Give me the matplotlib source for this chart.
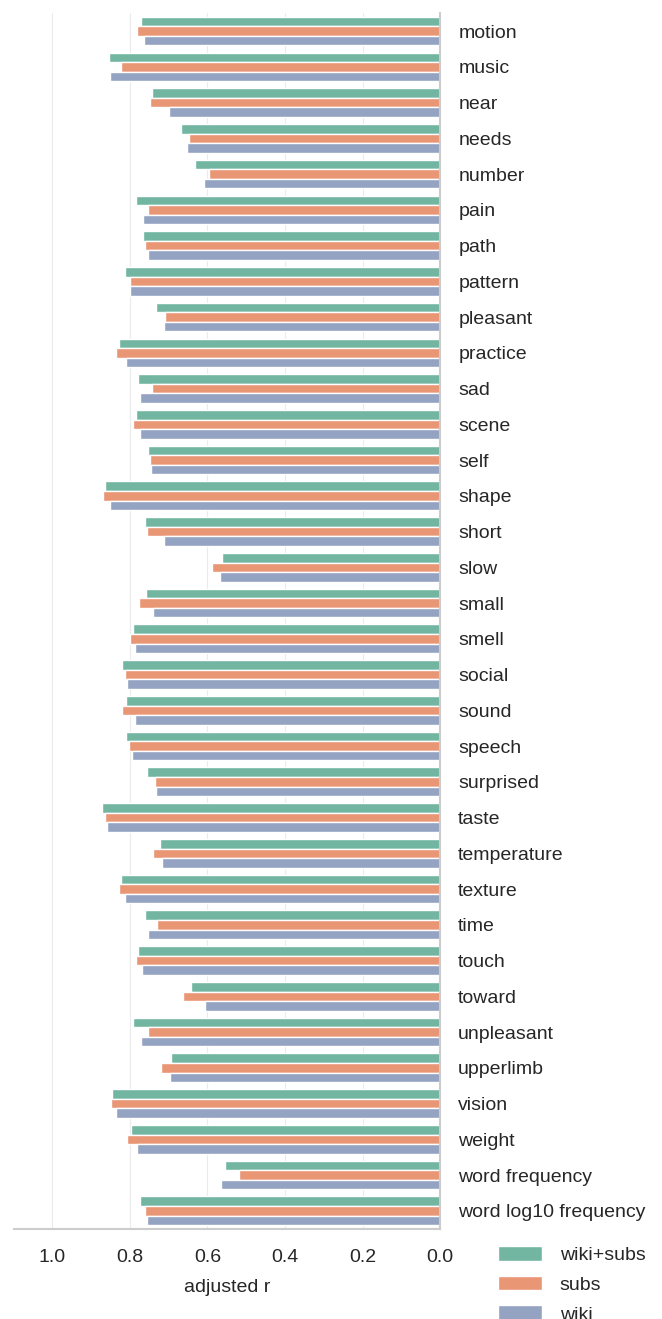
import matplotlib
matplotlib.use("Agg")
import matplotlib.pyplot as plt
import numpy as np
import pandas as pd
import seaborn as sns

features = ["motion", "music", "near", "needs", "number", "pain", "path",
            "pattern", "pleasant", "practice", "sad", "scene", "self", "shape",
            "short", "slow", "small", "smell", "social", "sound", "speech",
            "surprised", "taste", "temperature", "texture", "time", "touch",
            "toward", "unpleasant", "upperlimb", "vision", "weight",
            "word frequency", "word log10 frequency"]

wiki_subs = [0.771, 0.853, 0.742, 0.667, 0.631, 0.785, 0.765, 0.813, 0.732,
             0.827, 0.778, 0.783, 0.752, 0.864, 0.762, 0.563, 0.758, 0.791,
             0.820, 0.810, 0.811, 0.755, 0.871, 0.723, 0.822, 0.761, 0.780,
             0.643, 0.792, 0.693, 0.847, 0.798, 0.555, 0.773]
subs = [0.781, 0.824, 0.748, 0.647, 0.595, 0.753, 0.761, 0.799, 0.709,
        0.835, 0.744, 0.792, 0.748, 0.869, 0.757, 0.589, 0.777, 0.799,
        0.812, 0.820, 0.802, 0.735, 0.864, 0.741, 0.828, 0.731, 0.785,
        0.664, 0.752, 0.721, 0.849, 0.807, 0.518, 0.761]
wiki = [0.763, 0.850, 0.700, 0.653, 0.610, 0.765, 0.752, 0.800, 0.712,
        0.809, 0.773, 0.773, 0.746, 0.850, 0.713, 0.568, 0.740, 0.787,
        0.808, 0.788, 0.794, 0.732, 0.860, 0.716, 0.812, 0.752, 0.769,
        0.606, 0.771, 0.696, 0.835, 0.782, 0.566, 0.756]

models = ["wiki+subs", "subs", "wiki"]

df = pd.DataFrame({
    "feature": features * 3,
    "adjusted r": wiki_subs + subs + wiki,
    "model": [m for m in models for _ in features],
})

sns.set_style("whitegrid", {"grid.color": ".92"})
plt.rcParams["font.family"] = ["Liberation Sans", "DejaVu Sans"]

fig = plt.figure(figsize=(6.62, 13.19), dpi=100)
ax = fig.add_axes([0.0204, 0.0685, 0.6445, 0.9215])

sns.barplot(data=df, x="adjusted r", y="feature", hue="model",
            palette="Set2", ax=ax)

ax.set_xlim(1.1, 0)
ax.set_ylabel("")
ax.set_xlabel("adjusted r", fontsize=14, labelpad=9)
ax.yaxis.tick_right()
ax.tick_params(axis="y", labelsize=14, pad=13, length=0)
ax.tick_params(axis="x", labelsize=14, pad=15, length=0)
ax.yaxis.grid(False)
sns.despine(ax=ax, left=True, right=False, top=True)
for s in ("right", "bottom"):
    ax.spines[s].set_linewidth(1.5)

ax.legend(loc="upper left", bbox_to_anchor=(0.74, 0.0615),
          bbox_transform=fig.transFigure, frameon=False, fontsize=14,
          handlelength=2.3, handleheight=0.8, labelspacing=0.6,
          handletextpad=0.9, borderaxespad=0)

fig.savefig("out.png", dpi=100)
